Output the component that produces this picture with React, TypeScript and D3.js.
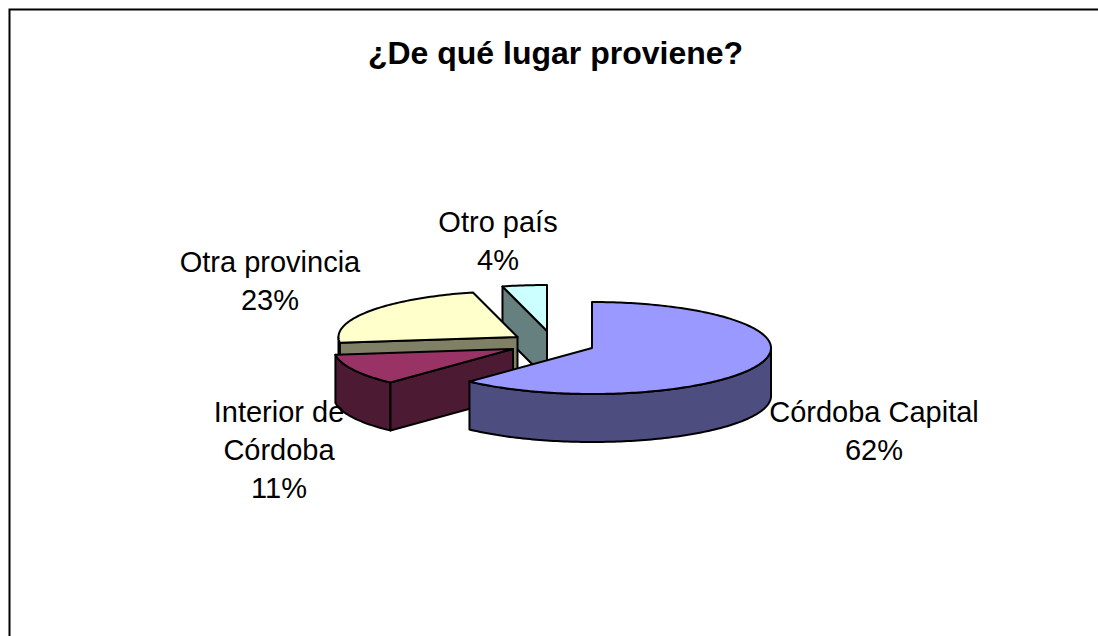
import React from "react";
import * as d3 from "d3";

const categories = ["Córdoba Capital", "Interior de Córdoba", "Otra provincia", "Otro país"];
const values = [62, 11, 23, 4];
const topColors = ["#9999FF", "#993366", "#FFFFCC", "#CCFFFF"];
const sideColors = ["#4D4D80", "#4D1A33", "#808066", "#668080"];
const titleText = "¿De qué lugar proviene?";
const labelTexts = [
  ["Córdoba Capital", "62%"],
  ["Interior de", "Córdoba", "11%"],
  ["Otra provincia", "23%"],
  ["Otro país", "4%"],
];

const RX = 179;
const RY = 46;
const DEPTH = 48;
const centers: [number, number][] = [
  [592, 348],
  [513, 349],
  [517.5, 337],
  [547, 331],
];
const labelPos: [number, number][] = [
  [874, 422],
  [279, 422],
  [270, 272],
  [498, 232],
];

const xs = d3.scaleLinear().domain([-1, 1]).range([-RX, RX]);
const ys = d3.scaleLinear().domain([-1, 1]).range([-RY, RY]);
const pt = (c: [number, number], a: number, dy = 0): [number, number] => [
  c[0] + xs(Math.sin(a)),
  c[1] + ys(-Math.cos(a)) + dy,
];
const arcPts = (c: [number, number], a0: number, a1: number, dy = 0) => {
  const n = Math.max(2, Math.ceil(Math.abs(a1 - a0) / 0.02));
  return d3.range(n + 1).map((i) => pt(c, a0 + ((a1 - a0) * i) / n, dy));
};
const line = d3.line<[number, number]>();
const close = (p: [number, number][]) => (line(p) as string) + "Z";

const slices = d3.pie<number>().sort(null).startAngle(0).endAngle(2 * Math.PI)(values);

export default function App() {
  const stroke = { stroke: "#000", strokeWidth: 2, strokeLinejoin: "round" as const };
  const order = [3, 2, 1, 0];
  return (
    <svg
      width={1098}
      height={636}
      style={{ position: "absolute", left: 0, top: 0, background: "#fff" }}
      fontFamily="'Liberation Sans', Arial, sans-serif"
    >
      <path d="M9.5 636V9.5H1098" fill="none" stroke="#000" strokeWidth={2} />
      <text x={555.5} y={64} textAnchor="middle" fontSize={32} fontWeight="bold" fill="#000">
        {titleText}
      </text>
      {order.map((i) => {
        const s = slices[i];
        const c = centers[i];
        const a0 = s.startAngle;
        const a1 = s.endAngle;
        const wallFrom = Math.max(a0, Math.PI / 2);
        const wallTo = Math.min(a1, (3 * Math.PI) / 2);
        const faces: [number, number][][] = [];
        if (i !== 0) {
          const p = pt(c, a0);
          faces.push([p, c, [c[0], c[1] + DEPTH], [p[0], p[1] + DEPTH]]);
        }
        const wall =
          wallTo > wallFrom
            ? close([...arcPts(c, wallFrom, wallTo), ...arcPts(c, wallTo, wallFrom, DEPTH)])
            : null;
        return (
          <g key={categories[i]}>
            {wall && <path d={wall} fill={sideColors[i]} {...stroke} />}
            {faces.map((f, k) => (
              <path key={k} d={close(f)} fill={sideColors[i]} {...stroke} />
            ))}
            <path d={close([c, ...arcPts(c, a0, a1)])} fill={topColors[i]} {...stroke} />
          </g>
        );
      })}
      {labelTexts.map((lines, i) => (
        <text key={i} textAnchor="middle" fontSize={29} fill="#000">
          {lines.map((t, k) => (
            <tspan key={k} x={labelPos[i][0]} y={labelPos[i][1] + k * 38}>
              {t}
            </tspan>
          ))}
        </text>
      ))}
    </svg>
  );
}
